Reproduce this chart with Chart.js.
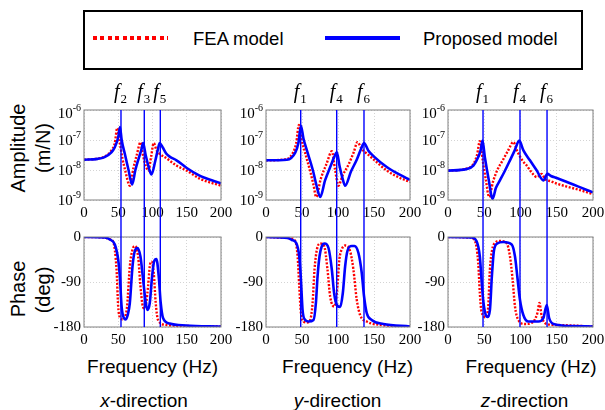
<!DOCTYPE html>
<html>
<head>
<meta charset="utf-8">
<script src="https://cdn.jsdelivr.net/npm/chart.js@4.4.0/dist/chart.umd.min.js"></script>
<style>
  body { margin: 0; background: #fff; width: 605px; height: 410px; position: relative; overflow: hidden;
         font-family: "Liberation Sans", Arial, sans-serif; color: #000; }
  canvas { position: absolute; }
  .lbl { position: absolute; white-space: nowrap; font-size: 19px; line-height: 19px; }
  .rot { position: absolute; white-space: nowrap; font-size: 20px; line-height: 20px;
         transform: translate(-50%, -50%) rotate(-90deg); }
  #legend { position: absolute; left: 83px; top: 10px; width: 500px; height: 60px;
            border: 2px solid #000; box-sizing: border-box; }
  .swatch { position: absolute; height: 4px; }
</style>
</head>
<body>

<div id="legend">
  <div class="swatch" style="left:8px; top:24px; width:75px;
       background: repeating-linear-gradient(to right, #ff0000 0 4px, transparent 4px 7.4px);"></div>
  <div class="lbl" style="left:108px; top:17px; font-size:18.5px;">FEA model</div>
  <div class="swatch" style="left:240px; top:24px; width:75px; background:#0000ff;"></div>
  <div class="lbl" style="left:338px; top:17px; font-size:18.5px;">Proposed model</div>
</div>

<div class="rot" style="left:18px; top:148px;">Amplitude</div>
<div class="rot" style="left:43px; top:148px;">(m/N)</div>
<div class="rot" style="left:18px; top:289px;">Phase</div>
<div class="rot" style="left:43px; top:290px;">(deg)</div>

<div id="labels"></div>

<script>
// ---- axis ticks ----
const freqTicks = [0, 50, 100, 150, 200];
const ampTicks = [1e-9, 1e-8, 1e-7, 1e-6];
const ampTickExp = ['-9', '-8', '-7', '-6'];
const phaseTicks = [-180, -90, 0];

// ---- natural frequencies marked by vertical lines ----
const modesX = [54.0, 88.0, 111.4];
const modesY = [48.2, 98.2, 136.1];
const modesZ = [48.3, 99.3, 136.6];
const modeSubX = ['2', '3', '5'];
const modeSubY = ['1', '4', '6'];
const modeSubZ = ['1', '4', '6'];

// ---- x-direction amplitude ----
const fAmpX_fea = [0, 20, 30, 40, 45, 48.5, 52, 56, 60, 66.9, 72, 77, 82.4, 86, 90, 94, 98, 101.8, 106, 110, 120, 135, 150, 170, 200];
const ampX_fea = [2.2e-8, 2.4e-8, 2.8e-8, 4.5e-8, 7.9e-8, 2.5e-7, 8.9e-8, 2.5e-8, 1.0e-8, 3.0e-9, 1.12e-8, 3.16e-8, 8.3e-8, 3.16e-8, 1.41e-8, 9.5e-9, 2.8e-8, 7.9e-8, 4.5e-8, 3.55e-8, 2.5e-8, 1.41e-8, 9.5e-9, 5.0e-9, 3.0e-9];
const fAmpX_prop = [0, 20, 30, 40, 45, 50, 52.5, 55, 60, 65, 70.3, 75, 80, 84, 86.3, 90, 95, 98.5, 104, 108, 110.5, 115, 120, 125, 135, 150, 168, 175, 200];
const ampX_prop = [2.2e-8, 2.35e-8, 2.7e-8, 3.9e-8, 5.75e-8, 1.23e-7, 2.7e-7, 1.0e-7, 3.16e-8, 1.0e-8, 3.3e-9, 1.0e-8, 2.5e-8, 5.0e-8, 7.9e-8, 3.16e-8, 1.12e-8, 7.1e-9, 2.0e-8, 5.0e-8, 7.9e-8, 5.6e-8, 3.55e-8, 2.8e-8, 2.1e-8, 1.17e-8, 6.6e-9, 5.6e-9, 3.6e-9];

// ---- y-direction amplitude ----
const fAmpY_fea = [0, 29, 38, 42, 45.7, 49, 54, 62, 66, 69.7, 76, 84, 91.5, 96, 100.6, 106, 114, 122, 127, 133, 140, 150, 168, 185, 200];
const ampY_fea = [2.1e-8, 2.3e-8, 4.0e-8, 7.9e-8, 3.16e-7, 1.12e-7, 4.0e-8, 7.9e-9, 3.16e-9, 1.26e-9, 5.0e-9, 1.58e-8, 4.2e-8, 1.0e-8, 3.0e-9, 6.3e-9, 1.41e-8, 4.0e-8, 8.5e-8, 5.0e-8, 3.55e-8, 2.2e-8, 9.5e-9, 5.6e-9, 4.0e-9];
const fAmpY_prop = [0, 29, 40.6, 45, 48.5, 52, 56.8, 65, 70, 75.3, 82, 90, 95, 98.4, 102, 106, 109.9, 118, 126, 132, 136.2, 142, 150, 167.7, 185, 200];
const ampY_prop = [2.1e-8, 2.2e-8, 3.8e-8, 7.9e-8, 3.0e-7, 1.12e-7, 4.5e-8, 1.0e-8, 3.16e-9, 1.26e-9, 4.5e-9, 1.41e-8, 2.8e-8, 3.9e-8, 1.41e-8, 5.6e-9, 3.0e-9, 8.9e-9, 2.2e-8, 5.0e-8, 7.9e-8, 4.5e-8, 2.8e-8, 1.26e-8, 7.1e-9, 4.7e-9];

// ---- z-direction amplitude ----
const fAmpZ_fea = [0, 25, 35, 40, 43.9, 48, 52, 56.8, 62, 68, 75, 83, 90, 96, 103, 108.6, 116, 122.5, 129.3, 134, 142, 150, 164, 180, 200];
const ampZ_fea = [9.5e-9, 1.1e-8, 1.58e-8, 3.16e-8, 9.1e-8, 2.0e-8, 5.0e-9, 1.26e-9, 4.0e-9, 1.0e-8, 2.0e-8, 4.5e-8, 8.5e-8, 4.0e-8, 2.0e-8, 1.41e-8, 7.9e-9, 5.8e-9, 7.4e-9, 5.0e-9, 4.2e-9, 3.5e-9, 2.8e-9, 2.2e-9, 1.58e-9];
const fAmpZ_prop = [0, 25, 35, 42, 45, 47.6, 51, 56, 61.5, 66, 71.6, 78, 85.5, 92, 98.3, 104, 113, 122, 131.6, 137.1, 142, 150, 164, 180, 200];
const ampZ_prop = [9.5e-9, 1.07e-8, 1.41e-8, 2.8e-8, 4.5e-8, 9.5e-8, 2.5e-8, 5.0e-9, 1.1e-9, 2.5e-9, 4.5e-9, 8.9e-9, 2.1e-8, 4.5e-8, 9.5e-8, 4.5e-8, 2.1e-8, 1.0e-8, 4.5e-9, 7.4e-9, 6.3e-9, 5.4e-9, 4.0e-9, 2.8e-9, 1.8e-9];

// ---- x-direction phase ----
const fPhX_fea = [0, 30, 36, 42.7, 47.5, 49.9, 53.3, 58, 61, 62.9, 66.9, 70.8, 74.2, 79, 82.4, 85.3, 88.5, 91, 93.6, 96, 98.4, 101.8, 104.7, 108.1, 120.2, 150, 200];
const phX_fea = [0, -1, -4, -10, -65, -139, -162, -165, -155, -139, -59, -25, -18, -39, -98, -135, -143, -130, -98, -59, -49, -72, -132, -166, -176, -178, -179];
const fPhX_prop = [0, 30, 37.8, 45, 49.9, 52.4, 54.9, 58.2, 61, 64, 66.9, 70.8, 74.2, 78.1, 82.4, 86.3, 90.2, 92.6, 96, 99.4, 102.3, 105.7, 109.1, 112, 115.4, 125, 149, 200];
const phX_prop = [0, -1, -5, -15, -45, -81, -139, -162, -165, -155, -132, -59, -28, -22, -39, -85, -132, -146, -132, -79, -49, -44, -79, -132, -162, -173, -177, -179];

// ---- y-direction phase ----
const fPhY_fea = [0, 30, 40.6, 43.9, 46.2, 48.5, 52.2, 56.8, 61.4, 64.7, 67.4, 70.7, 75.3, 80.8, 85.4, 89.1, 95.1, 99.2, 101.9, 105.1, 109.9, 116.8, 121.4, 126, 130.7, 139.9, 160, 200];
const phY_fea = [0, -2, -8, -39, -99, -152, -169, -171, -166, -132, -65, -25, -13, -18, -65, -119, -139, -99, -45, -25, -17, -28, -65, -125, -156, -169, -176, -179];
const fPhY_prop = [0, 30, 36, 42, 46.2, 48.5, 50.8, 54.5, 59.1, 66, 69.3, 71.6, 74.3, 77.6, 81.3, 86.8, 91.4, 94.6, 98.4, 103, 106.7, 109.9, 113.1, 119.1, 122.9, 128.4, 133, 136.2, 139.9, 146.8, 163, 200];
const phY_prop = [0, -2, -6, -12, -39, -85, -146, -166, -169, -166, -132, -79, -39, -18, -13, -22, -65, -112, -136, -140, -112, -59, -28, -18, -18, -32, -72, -119, -152, -166, -174, -179];

// ---- z-direction phase ----
const fPhZ_fea = [0, 30, 37.2, 41.7, 43.9, 46.2, 52.2, 55.5, 57.8, 61, 64.7, 71.6, 80.8, 85.5, 89.1, 92.4, 97, 106.2, 117.8, 123.3, 126.1, 129.3, 136.2, 150, 200];
const phZ_fea = [0, -1, -8, -52, -112, -149, -160, -139, -65, -25, -12, -8, -12, -39, -85, -139, -166, -174, -169, -152, -132, -159, -174, -176, -179];
const fPhZ_prop = [0, 32.4, 39.3, 43.9, 46.2, 48.5, 50.8, 54.1, 57.8, 60.5, 63.3, 67.9, 76.2, 87.8, 92.4, 95.6, 99.3, 103.9, 110.8, 124.7, 131.6, 136.2, 139.5, 145.5, 170, 200];
const phZ_prop = [0, -1, -8, -39, -85, -126, -149, -160, -146, -79, -28, -13, -10, -15, -39, -79, -126, -156, -169, -169, -162, -136, -162, -174, -178, -179];

const directions = ['x', 'y', 'z'];

// panel placement (plot box edges in page pixels)
const boxLeft = [84, 266, 448];
const boxRight = [221, 410, 593];
const freqLabelX = [152.5, 347.5, 531];
const dirLabelX = [144, 337.5, 524.5];

const RED = '#ff0000', BLUE = '#0000ff';
const SERIF = '"Liberation Serif", "Times New Roman", serif';

function pts(f, v) {
    return f.map((x, i) => ({ x: x, y: v[i] }));
}

function series(fFea, vFea, fProp, vProp) {
    return [
        {
            label: 'Proposed model', data: pts(fProp, vProp), borderColor: BLUE, borderWidth: 2.6,
            pointRadius: 0, cubicInterpolationMode: 'monotone', order: 0
        },
        {
            label: 'FEA model', data: pts(fFea, vFea), borderColor: RED, borderWidth: 2.4,
            borderDash: [2, 1.6], pointRadius: 0, cubicInterpolationMode: 'monotone', order: 1
        }
    ];
}

// box, mode lines, f labels and 10^n tick labels
function framePlugin(modes, subs, isAmp) {
    return {
        id: 'frame',
        afterDatasetsDraw(chart) {
            const ctx = chart.ctx, a = chart.chartArea, sx = chart.scales.x;
            ctx.save();
            ctx.strokeStyle = '#808080';
            ctx.lineWidth = 1;
            ctx.strokeRect(a.left, a.top, a.right - a.left, a.bottom - a.top);

            ctx.strokeStyle = BLUE;
            ctx.lineWidth = 1.4;
            modes.forEach((f, i) => {
                const x = sx.getPixelForValue(f);
                ctx.beginPath();
                ctx.moveTo(x, isAmp ? a.top : 0);
                ctx.lineTo(x, isAmp ? chart.height : a.bottom);
                ctx.stroke();
                if (isAmp) {
                    ctx.fillStyle = '#000';
                    ctx.textBaseline = 'alphabetic';
                    ctx.textAlign = 'left';
                    ctx.font = 'italic 20px ' + SERIF;
                    ctx.fillText('f', x - 7, a.top - 12);
                    ctx.font = '13px ' + SERIF;
                    ctx.fillText(subs[i], x - 0.5, a.top - 7);
                }
            });

            if (isAmp) {
                const sy = chart.scales.y;
                ctx.fillStyle = '#000';
                ctx.textAlign = 'right';
                ampTicks.forEach((v, i) => {
                    const y = sy.getPixelForValue(v) + (i === ampTicks.length - 1 ? 3 : 0);
                    const xr = a.left - 3;
                    ctx.font = '10px ' + SERIF;
                    ctx.fillText(ampTickExp[i], xr, y - 2);
                    const w = ctx.measureText(ampTickExp[i]).width;
                    ctx.font = '15px ' + SERIF;
                    ctx.fillText('10', xr - w, y + 5);
                });
            }
            ctx.restore();
        }
    };
}

function makePanel(col, row, datasets, modes, subs) {
    const isAmp = row === 0;
    const yw = 50, padRight = 16;
    const top = isAmp ? 80 : 225;
    const padTop = isAmp ? 30 : 12;
    const plotH = 90, xh = 25;
    const canvas = document.createElement('canvas');
    const left = boxLeft[col] - yw;
    canvas.width = yw + (boxRight[col] - boxLeft[col]) + padRight;
    canvas.height = padTop + plotH + xh;
    canvas.style.left = left + 'px';
    canvas.style.top = top + 'px';
    document.body.appendChild(canvas);

    const gridOpts = { color: '#d4d4d4', lineWidth: 1, drawTicks: false };
    const borderOpts = { display: false, dash: [1, 2] };

    const yScale = isAmp ? {
        type: 'logarithmic', min: 1e-9, max: 1e-6,
        afterBuildTicks: s => { s.ticks = ampTicks.map(v => ({ value: v })); },
        afterFit: s => { s.width = yw; },
        grid: gridOpts, border: borderOpts,
        ticks: { display: false }
    } : {
        type: 'linear', min: -180, max: 0,
        afterBuildTicks: s => { s.ticks = phaseTicks.map(v => ({ value: v })); },
        afterFit: s => { s.width = yw; },
        grid: gridOpts, border: borderOpts,
        ticks: { padding: 3, color: '#000', font: { family: SERIF, size: 15 }, callback: v => String(v) }
    };

    new Chart(canvas, {
        type: 'line',
        data: { datasets: datasets },
        options: {
            responsive: false,
            animation: false,
            events: [],
            layout: { padding: { top: padTop, right: padRight, left: 0, bottom: 0 } },
            plugins: { legend: { display: false }, tooltip: { enabled: false } },
            scales: {
                x: {
                    type: 'linear', min: 0, max: 200,
                    afterBuildTicks: s => { s.ticks = freqTicks.map(v => ({ value: v })); },
                    afterFit: s => { s.height = xh; },
                    grid: gridOpts, border: borderOpts,
                    ticks: { padding: 4.5, autoSkip: false, maxRotation: 0, color: '#000',
                             font: { family: SERIF, size: 15 } }
                },
                y: yScale
            }
        },
        plugins: [framePlugin(modes, subs, isAmp)]
    });
}

makePanel(0, 0, series(fAmpX_fea, ampX_fea, fAmpX_prop, ampX_prop), modesX, modeSubX);
makePanel(1, 0, series(fAmpY_fea, ampY_fea, fAmpY_prop, ampY_prop), modesY, modeSubY);
makePanel(2, 0, series(fAmpZ_fea, ampZ_fea, fAmpZ_prop, ampZ_prop), modesZ, modeSubZ);
makePanel(0, 1, series(fPhX_fea, phX_fea, fPhX_prop, phX_prop), modesX, modeSubX);
makePanel(1, 1, series(fPhY_fea, phY_fea, fPhY_prop, phY_prop), modesY, modeSubY);
makePanel(2, 1, series(fPhZ_fea, phZ_fea, fPhZ_prop, phZ_prop), modesZ, modeSubZ);

// axis titles under each column
const holder = document.getElementById('labels');
directions.forEach((d, i) => {
    const fl = document.createElement('div');
    fl.className = 'lbl';
    fl.textContent = 'Frequency (Hz)';
    fl.style.top = '357px';
    fl.style.left = freqLabelX[i] + 'px';
    fl.style.transform = 'translateX(-50%)';
    holder.appendChild(fl);

    const dl = document.createElement('div');
    dl.className = 'lbl';
    dl.innerHTML = '<i>' + d + '</i>-direction';
    dl.style.top = '391px';
    dl.style.left = dirLabelX[i] + 'px';
    dl.style.transform = 'translateX(-50%)';
    holder.appendChild(dl);
});
</script>
</body>
</html>
